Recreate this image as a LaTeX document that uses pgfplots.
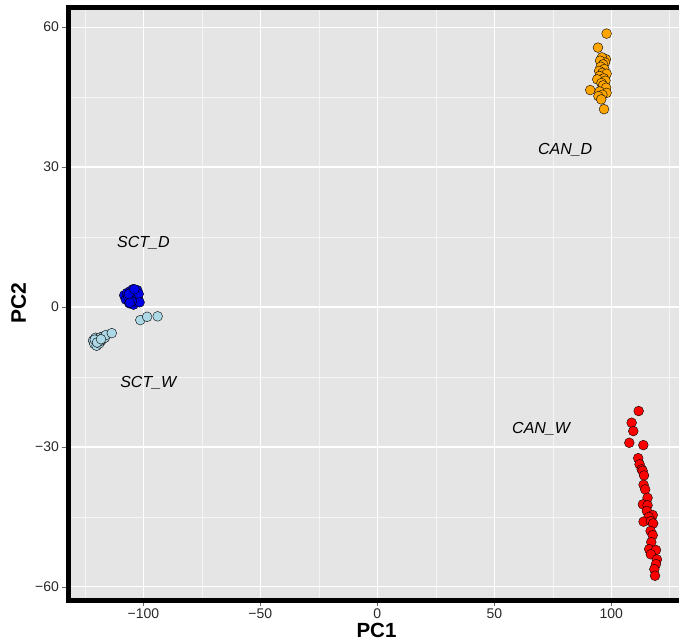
\documentclass[border=0pt]{standalone}
\usepackage{pgfplots}
\pgfplotsset{compat=1.18}
\usepackage{fontspec}
\setmainfont{Liberation Sans}
\definecolor{panelbg}{RGB}{229,229,229}
\definecolor{ticktxt}{RGB}{40,40,40}
\definecolor{cand}{RGB}{255,165,0}
\definecolor{canw}{RGB}{255,0,0}
\definecolor{sctd}{RGB}{0,0,230}
\definecolor{sctw}{RGB}{173,216,230}
\begin{document}
\begin{tikzpicture}
\useasboundingbox (-68.5pt,-41pt) rectangle (610.5pt,600pt);
\clip (-68.5pt,-41pt) rectangle (610.5pt,600pt);
\begin{axis}[
  scale only axis,
  width=616pt, height=593pt,
  xmin=-132, xmax=131.3,
  ymin=-62.8, ymax=64.3,
  axis background/.style={fill=panelbg},
  axis line style={line width=5pt, black},
  xtick={-100,-50,0,50,100},
  xticklabels={−100,−50,0,50,100},
  ytick={-60,-30,0,30,60},
  yticklabels={−60,−30,0,30,60},
  minor xtick={-125,-75,-25,25,75,125},
  minor ytick={-45,-15,15,45},
  grid=both,
  major grid style={white, line width=1.1pt},
  minor grid style={white!60!panelbg, line width=0.55pt},
  tick align=outside,
  xtick pos=bottom, ytick pos=left,
  major tick length=6pt, minor tick length=0pt,
  tick style={black!60, line width=0.6pt},
  ticklabel style={font=\fontsize{14}{14}\selectfont, text=ticktxt},
  xticklabel style={yshift=1pt},
  xlabel={\textbf{PC1}}, ylabel={\textbf{PC2}},
  xlabel style={at={(axis description cs:0.5,0)}, anchor=center, inner sep=0pt, yshift=-30.5pt, font=\fontsize{20.5}{20.5}\selectfont},
  ylabel style={at={(axis description cs:-0.081,0.5)}, anchor=center, font=\fontsize{21}{21}\selectfont},
  every axis plot/.append style={only marks, mark=*, mark size=4.9pt, mark options={draw=black, line width=0.6pt}},
  clip=false,
]
% CAN_D
\addplot[mark options={fill=cand}] coordinates {
(98.0,58.6)(94.3,55.6)(97.7,53.1)(96.0,53.5)(97.3,52.4)(95.2,52.8)(96.5,52.0)(95.5,51.5)(97.0,51.0)(94.8,50.6)
(96.2,50.2)(98.0,50.0)(95.0,49.5)(96.8,49.0)(94.0,48.8)(97.5,48.5)(95.8,48.0)(96.5,47.5)(97.8,47.0)(91.0,46.5)
(95.0,46.2)(98.0,45.9)(96.2,45.5)(94.5,45.2)(95.7,44.5)(96.9,42.4)
};
% CAN_W
\addplot[mark options={fill=canw}] coordinates {
(111.7,-22.3)(108.7,-24.8)(109.4,-26.6)(107.7,-29.1)(113.7,-29.6)(111.5,-32.4)(112.1,-33.7)(113.0,-34.8)(113.4,-35.1)
(114.0,-36.1)(113.8,-38.1)(114.5,-39.1)(115.5,-40.9)(113.5,-42.3)(115.5,-42.5)(115.2,-43.7)(117.7,-44.6)(116.0,-45.0)
(113.8,-46.0)(116.9,-45.9)(117.9,-46.4)(116.8,-48.0)(117.7,-48.9)(117.1,-50.4)(116.2,-51.9)(119.1,-52.1)(116.9,-53.0)
(119.5,-54.1)(119.1,-55.1)(118.4,-56.2)(118.7,-57.6)
};
% SCT_D
\addplot[mark options={fill=sctd}] coordinates {
(-108.2,2.5)(-107.5,1.6)(-107.0,3.0)(-106.5,2.2)(-106.0,0.8)(-105.6,3.4)(-105.2,1.5)(-104.8,2.6)(-104.5,3.8)(-104.2,0.5)
(-104.0,2.0)(-103.6,3.2)(-103.2,1.2)(-103.0,2.6)(-102.6,3.6)(-102.3,1.8)(-102.0,2.8)(-101.6,1.0)(-104.9,1.2)(-106.2,2.8)
(-103.8,3.8)(-105.8,0.9)
};
% SCT_W
\addplot[mark options={fill=sctw}] coordinates {
(-121.5,-7.2)(-121.0,-7.9)(-120.5,-6.6)(-120.0,-8.3)(-119.6,-7.4)(-119.2,-6.8)(-118.8,-7.8)(-118.4,-6.5)(-118.0,-7.2)
(-117.5,-6.9)(-117.0,-6.3)(-116.5,-6.6)(-116.0,-6.0)(-120.8,-7.0)(-119.8,-7.6)(-118.1,-6.9)(-113.5,-5.6)(-101.3,-2.8)
(-98.4,-2.1)(-93.9,-2.0)
};
\node[font=\fontsize{16}{16}\selectfont\itshape] at (axis cs:-100,13.7) {SCT\_D};
\node[font=\fontsize{16}{16}\selectfont\itshape] at (axis cs:-97.9,-16.3) {SCT\_W};
\node[font=\fontsize{16}{16}\selectfont\itshape] at (axis cs:80.3,33.6) {CAN\_D};
\node[font=\fontsize{16}{16}\selectfont\itshape] at (axis cs:70,-26.1) {CAN\_W};
\end{axis}
\end{tikzpicture}
\end{document}
